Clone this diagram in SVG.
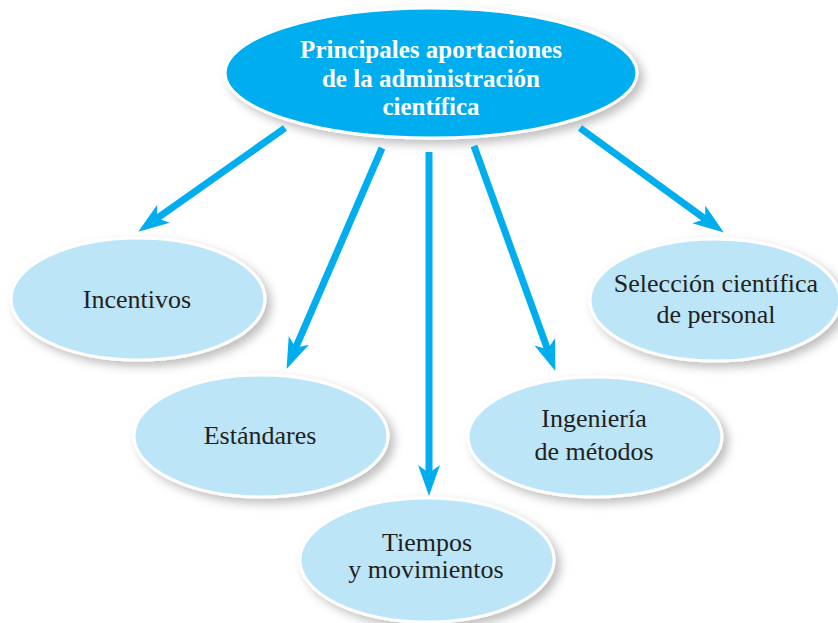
<svg xmlns="http://www.w3.org/2000/svg" width="838" height="623" viewBox="0 0 838 623">
  <style>
    .main { fill: #00aeef; stroke: #ffffff; stroke-width: 3; }
    .node { fill: #bce5f8; stroke: #ffffff; stroke-width: 3; }
    .title { font-family: "Liberation Serif", "Times New Roman", serif; font-weight: bold; font-size: 25px; fill: #ffffff; text-anchor: middle; }
    .label { font-family: "Liberation Serif", "Times New Roman", serif; font-size: 26px; fill: #231f20; text-anchor: middle; }
    .conn { stroke: #00aeef; stroke-width: 7; fill: none; marker-end: url(#head); }
  </style>
  <defs>
    <filter id="shadow" x="-20%" y="-20%" width="150%" height="150%">
      <feDropShadow dx="5" dy="5" stdDeviation="5" flood-color="#000000" flood-opacity="0.25"/>
    </filter>
    <marker id="head" markerUnits="userSpaceOnUse" markerWidth="32" markerHeight="26" refX="15" refY="13" orient="auto" viewBox="0 0 32 26">
      <path d="M0,2 L31,13 L0,24 L8,13 Z" fill="#00aeef"/>
    </marker>
  </defs>
  <rect width="838" height="623" fill="#ffffff"/>

  <g id="main">
    <ellipse class="main" cx="431" cy="73" rx="206" ry="65" filter="url(#shadow)"/>
    <text class="title" x="431" y="58">Principales aportaciones</text>
    <text class="title" x="431" y="87">de la administración</text>
    <text class="title" x="431" y="115">científica</text>
  </g>

  <g id="incentivos">
    <ellipse class="node" cx="138" cy="299" rx="127" ry="61" filter="url(#shadow)"/>
    <text class="label" x="137" y="308">Incentivos</text>
  </g>

  <g id="estandares">
    <ellipse class="node" cx="261" cy="436" rx="127" ry="61" filter="url(#shadow)"/>
    <text class="label" x="260" y="444">Estándares</text>
  </g>

  <g id="tiempos">
    <ellipse class="node" cx="427" cy="560" rx="127" ry="62" filter="url(#shadow)"/>
    <text class="label" x="427" y="551">Tiempos</text>
    <text class="label" x="426" y="578">y movimientos</text>
  </g>

  <g id="ingenieria">
    <ellipse class="node" cx="595" cy="437" rx="127" ry="60" filter="url(#shadow)"/>
    <text class="label" x="594" y="427">Ingeniería</text>
    <text class="label" x="594" y="460">de métodos</text>
  </g>

  <g id="seleccion">
    <ellipse class="node" cx="715" cy="300" rx="125" ry="61" filter="url(#shadow)"/>
    <text class="label" x="716" y="292">Selección científica</text>
    <text class="label" x="716" y="323">de personal</text>
  </g>

  <g id="connectors">
    <line class="conn" x1="285" y1="128" x2="151.3" y2="222.4"/>
    <line class="conn" x1="382" y1="148" x2="292.9" y2="354.2"/>
    <line class="conn" x1="429" y1="152" x2="429" y2="480"/>
    <line class="conn" x1="474" y1="146" x2="549.9" y2="355.9"/>
    <line class="conn" x1="580" y1="128" x2="710.9" y2="223.2"/>
  </g>
</svg>
